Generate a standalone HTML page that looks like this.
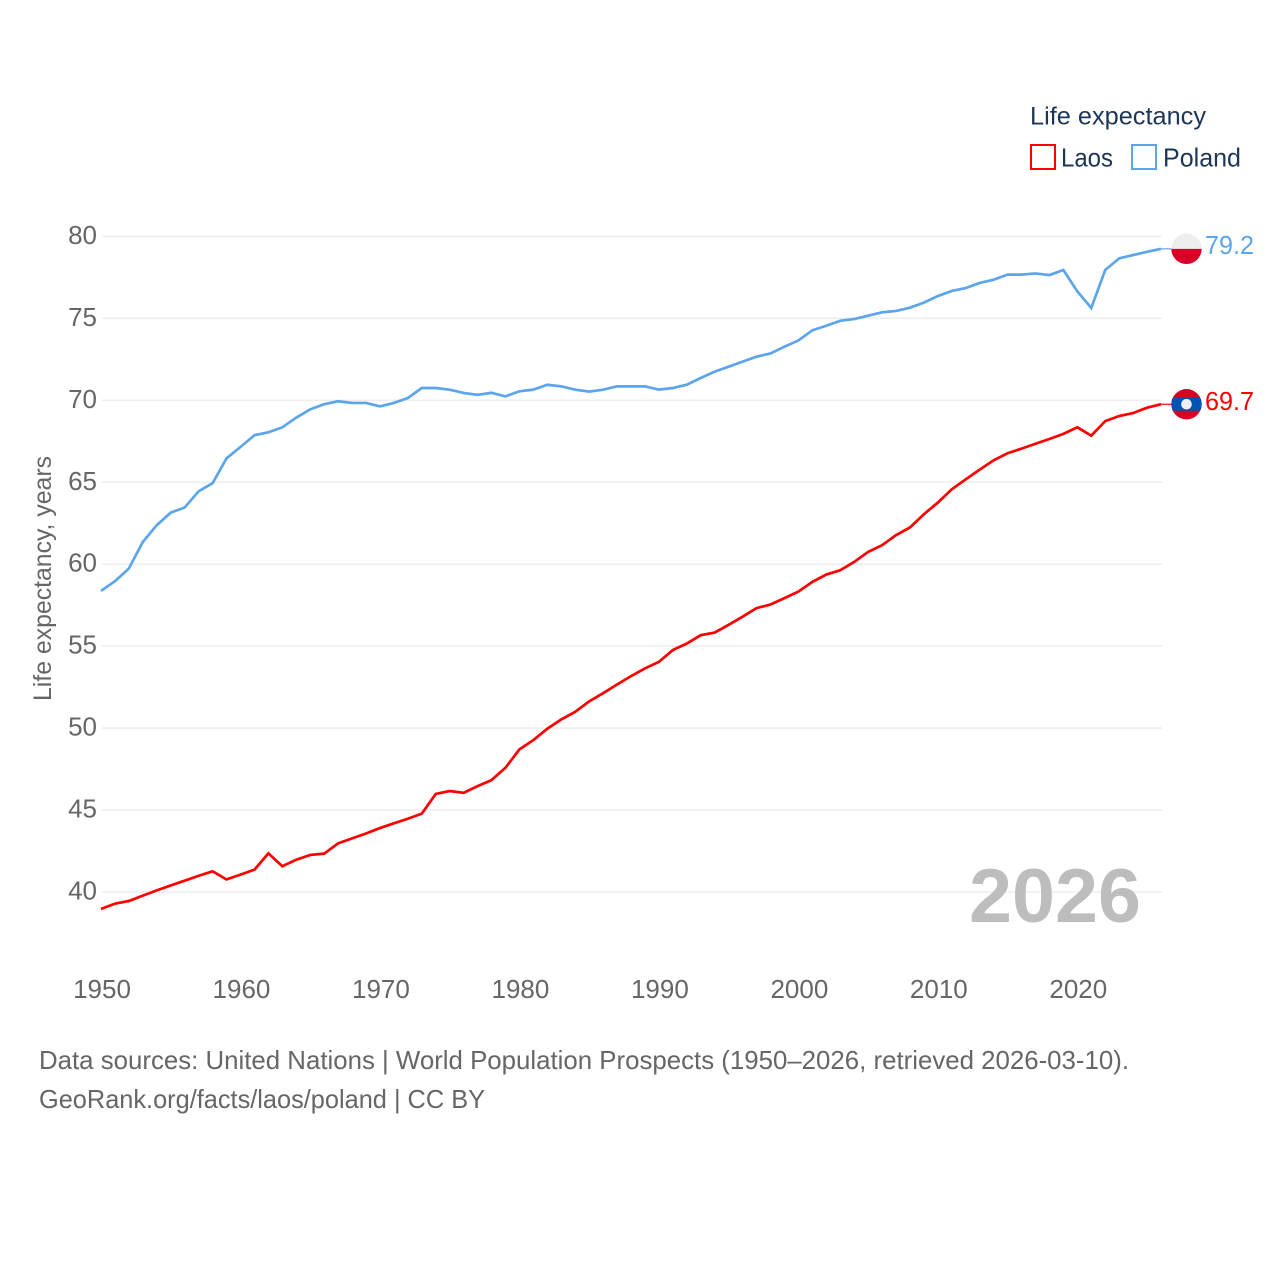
<!DOCTYPE html>
<html lang="en">
<head>
<meta charset="utf-8">
<title>Life expectancy: Laos and Poland</title>
<style>
  html, body { margin: 0; padding: 0; background: #fff; }
  svg { display: block; font-family: "Liberation Sans", sans-serif; }
</style>
</head>
<body>
<svg id="chart" xmlns="http://www.w3.org/2000/svg" width="1280" height="1280" viewBox="0 0 1280 1280">
  <rect x="0" y="0" width="1280" height="1280" fill="#ffffff"/>
  <g id="grid"></g>
  <g id="y-ticks"></g>
  <g id="x-ticks"></g>
  <text transform="translate(51 701) rotate(-90)" font-size="25" fill="#666666" textLength="245" lengthAdjust="spacingAndGlyphs">Life expectancy, years</text>
  <text x="969" y="922" font-size="76" font-weight="700" fill="#bdbdbd" textLength="172" lengthAdjust="spacingAndGlyphs">2026</text>
  <g id="series"></g>
  <g id="end-markers"></g>
  <g>
    <text x="1030" y="124.5" font-size="25" fill="#1d3557" textLength="176" lengthAdjust="spacingAndGlyphs">Life expectancy</text>
    <rect x="1031" y="145" width="24" height="24" fill="none" stroke="#ff0000" stroke-width="2"/>
    <text x="1061" y="166.5" font-size="26" fill="#1d3557" textLength="52" lengthAdjust="spacingAndGlyphs">Laos</text>
    <rect x="1132" y="145" width="24" height="24" fill="none" stroke="#5ca5ec" stroke-width="2"/>
    <text x="1163" y="166.5" font-size="26" fill="#1d3557" textLength="78" lengthAdjust="spacingAndGlyphs">Poland</text>
  </g>
  <text x="39" y="1069" font-size="26" fill="#666666" textLength="1090" lengthAdjust="spacingAndGlyphs">Data sources: United Nations | World Population Prospects (1950–2026, retrieved 2026-03-10).</text>
  <text x="39" y="1108" font-size="26" fill="#666666" textLength="446" lengthAdjust="spacingAndGlyphs">GeoRank.org/facts/laos/poland | CC BY</text>
</svg>
<script>
const startYear = 1950;
const yTickValues = [40, 45, 50, 55, 60, 65, 70, 75, 80];
const xTickYears = [1950, 1960, 1970, 1980, 1990, 2000, 2010, 2020];
const laosValues = [
  38.96, 39.29, 39.45, 39.78, 40.10, 40.40, 40.69, 40.99, 41.26, 40.77,
  41.06, 41.36, 42.36, 41.57, 41.97, 42.26, 42.34, 42.97, 43.27, 43.57,
  43.90, 44.19, 44.47, 44.78, 45.98, 46.16, 46.05, 46.46, 46.83, 47.58,
  48.70, 49.27, 49.96, 50.53, 50.99, 51.63, 52.13, 52.66, 53.17, 53.64,
  54.04, 54.76, 55.16, 55.67, 55.83, 56.30, 56.80, 57.32, 57.54, 57.93,
  58.33, 58.92, 59.37, 59.63, 60.14, 60.75, 61.16, 61.77, 62.24, 63.05,
  63.76, 64.57, 65.18, 65.77, 66.34, 66.77, 67.05, 67.35, 67.64, 67.95,
  68.35, 67.84, 68.73, 69.04, 69.22, 69.55, 69.76
];
const polandValues = [
  58.37, 58.96, 59.74, 61.36, 62.38, 63.15, 63.46, 64.45, 64.94, 66.46,
  67.15, 67.87, 68.05, 68.35, 68.94, 69.45, 69.76, 69.94, 69.84, 69.84,
  69.63, 69.84, 70.14, 70.75, 70.75, 70.65, 70.45, 70.33, 70.46, 70.24,
  70.55, 70.65, 70.95, 70.85, 70.65, 70.53, 70.65, 70.85, 70.85, 70.85,
  70.65, 70.75, 70.95, 71.36, 71.75, 72.05, 72.36, 72.66, 72.86, 73.27,
  73.65, 74.27, 74.55, 74.85, 74.96, 75.16, 75.37, 75.45, 75.65, 75.96,
  76.36, 76.67, 76.85, 77.16, 77.36, 77.67, 77.67, 77.74, 77.64, 77.95,
  76.65, 75.63, 77.95, 78.66, 78.86, 79.06, 79.24
];
const laosLabel = "69.7";
const polandLabel = "79.2";

const SVG_NS = "http://www.w3.org/2000/svg";
const xScale = function (year) { return 101 + (year - 1950) * (1060 / 76); };
const yScale = function (value) { return 892 - (value - 40) * 16.39; };

function make(tag, parent, attrs) {
  const el = document.createElementNS(SVG_NS, tag);
  Object.keys(attrs).forEach(function (k) { el.setAttribute(k, attrs[k]); });
  parent.appendChild(el);
  return el;
}

const gridGroup = document.getElementById("grid");
const yTickGroup = document.getElementById("y-ticks");
yTickValues.forEach(function (v) {
  const line = make("line", gridGroup, { x1: 102, x2: 1162, y1: yScale(v), y2: yScale(v), stroke: "#eeeeee", "stroke-width": 1.6 });
  
  
  const label = make("text", yTickGroup, { x: 97, y: yScale(v) + 7.5, "text-anchor": "end", "font-size": 26, fill: "#666666" });
  label.textContent = String(v);
  
  
});

const xTickGroup = document.getElementById("x-ticks");
xTickYears.forEach(function (year) {
  const label = make("text", xTickGroup, { x: xScale(year) + 1, y: 998, "text-anchor": "middle", "font-size": 26, fill: "#666666" });
  label.textContent = String(year);
  
  
});

function points(values) {
  return values.map(function (v, i) {
    return xScale(startYear + i).toFixed(2) + "," + yScale(v).toFixed(2);
  }).join(" ");
}

const seriesGroup = document.getElementById("series");
const laosLine = make("polyline", seriesGroup, { points: points(laosValues), fill: "none", stroke: "#ff0000", "stroke-width": 2.7, "stroke-linejoin": "miter" });


const polandLine = make("polyline", seriesGroup, { points: points(polandValues), fill: "none", stroke: "#5ca5ec", "stroke-width": 2.7, "stroke-linejoin": "miter" });



const markerGroup = document.getElementById("end-markers");
const lastX = xScale(startYear + laosValues.length - 1);
const flagX = 1186.5;

/* Poland end marker */
const polandY = yScale(polandValues[polandValues.length - 1]);
const polandConnector = make("line", markerGroup, { x1: lastX, x2: flagX - 15, y1: polandY, y2: polandY, stroke: "#5ca5ec", "stroke-width": 1.2 });


const polandFlag = make("g", markerGroup, {});


make("circle", polandFlag, { cx: flagX, cy: polandY, r: 15.2, fill: "#eeeeee" });
make("path", polandFlag, { d: "M" + (flagX - 15.2) + " " + polandY + " A15.2 15.2 0 0 0 " + (flagX + 15.2) + " " + polandY + " Z", fill: "#d80027" });
const polandText = make("text", markerGroup, { x: 1205, y: polandY + 5, "font-size": 26, fill: "#5ca5ec", textLength: 49, lengthAdjust: "spacingAndGlyphs" });
polandText.textContent = polandLabel;



/* Laos end marker */
const laosY = yScale(laosValues[laosValues.length - 1]);
const laosConnector = make("line", markerGroup, { x1: lastX, x2: flagX - 15, y1: laosY, y2: laosY, stroke: "#ff0000", "stroke-width": 1.2 });


const laosFlag = make("g", markerGroup, {});


const clipDefs = make("defs", laosFlag, {});
const clip = make("clipPath", clipDefs, { id: "laos-clip" });
make("circle", clip, { cx: flagX, cy: laosY, r: 15.2 });
make("circle", laosFlag, { cx: flagX, cy: laosY, r: 15.2, fill: "#d80027" });
make("rect", laosFlag, { x: flagX - 16, y: laosY - 6.5, width: 32, height: 13, fill: "#0052b4", "clip-path": "url(#laos-clip)" });
make("circle", laosFlag, { cx: flagX, cy: laosY, r: 5.3, fill: "#f0f0f0" });
const laosText = make("text", markerGroup, { x: 1205, y: laosY + 6, "font-size": 26, fill: "#ff0000", textLength: 49, lengthAdjust: "spacingAndGlyphs" });
laosText.textContent = laosLabel;


</script>
</body>
</html>
